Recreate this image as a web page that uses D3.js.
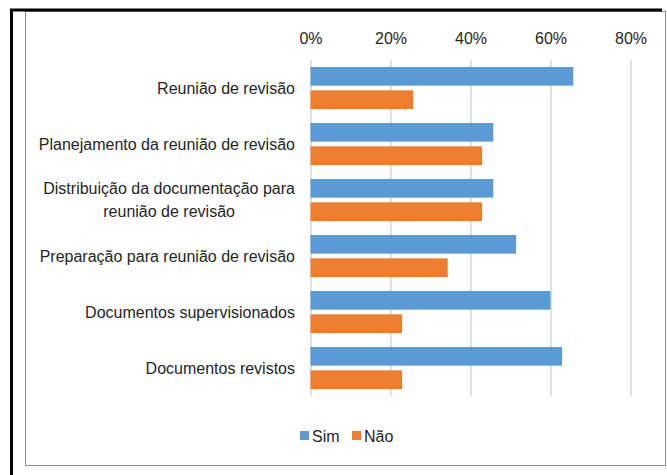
<!DOCTYPE html>
<html>
  <head>
    <meta charset="utf-8">
    <title>Revisão</title>
    <script src="https://d3js.org/d3.v7.min.js"></script>
    <style>
      body { margin: 0; background: #fff; }
      text { font-family: "Liberation Sans Narrow", "Liberation Sans", sans-serif; fill: #262626; }
    </style>
  </head>
  <body>
    <div id="chart"></div>
    <script>
      // data (n = 35 answers)
      var categories = [
        ["Reunião de revisão"],
        ["Planejamento da reunião de revisão"],
        ["Distribuição da documentação para", "reunião de revisão"],
        ["Preparação para reunião de revisão"],
        ["Documentos supervisionados"],
        ["Documentos revistos"]
      ];
      var seriesNames = ["Sim", "Não"];
      var sim = [65.7, 45.7, 45.7, 51.4, 60.0, 62.9];
      var nao = [25.7, 42.9, 42.9, 34.3, 22.9, 22.9];
      var ticks = [0, 20, 40, 60, 80];
      var colors = ["#5B9BD5", "#ED7D31"];

      var W = 667, H = 475;
      var margin = {top: 60, left: 310.5, right: 36.5, bottom: 79};

      var svg = d3.select("#chart").append("svg")
        .attr("width", W).attr("height", H);

      // frames
      svg.append("rect")
        .attr("x", 25.5).attr("y", 11.5).attr("width", 640).attr("height", 454)
        .attr("fill", "none").attr("stroke", "#8c8c8c").attr("stroke-width", 1);
      svg.append("line").attr("x1", 10).attr("x2", 662).attr("y1", 10).attr("y2", 10)
        .attr("stroke", "#000").attr("stroke-width", 3);
      svg.append("line").attr("x1", 11.5).attr("x2", 11.5).attr("y1", 9).attr("y2", H)
        .attr("stroke", "#000").attr("stroke-width", 3);

      var x = d3.scaleLinear().domain([0, 80]).range([margin.left, W - margin.right]);
      var y = d3.scaleBand().domain(d3.range(categories.length))
        .range([margin.top, H - margin.bottom]);
      var inner = d3.scaleBand().domain([0, 1])
        .range([0, y.bandwidth()]).paddingOuter(0.3).paddingInner(0.2);

      // gridlines + top axis
      var axis = svg.append("g")
        .attr("transform", "translate(0," + margin.top + ")")
        .call(d3.axisTop(x).tickValues(ticks)
          .tickFormat(function(d) { return d + "%"; })
          .tickSize(-(H - margin.bottom - margin.top)).tickPadding(16));
      axis.select(".domain").remove();
      axis.selectAll(".tick line").attr("stroke", "#bfbfbf");
      axis.selectAll(".tick text").attr("font-size", 16)
        .style("font-family", '"Liberation Sans Narrow", "Liberation Sans", sans-serif')
        .attr("fill", "#262626");

      // bars
      var series = [sim, nao];
      series.forEach(function(vals, s) {
        svg.append("g").selectAll("rect").data(vals).enter().append("rect")
          .attr("x", x(0))
          .attr("y", function(d, i) { return y(i) + inner(s); })
          .attr("width", function(d) { return x(d) - x(0); })
          .attr("height", inner.bandwidth())
          .attr("fill", colors[s]);
      });

      // category labels
      var lab = svg.append("g").selectAll("text").data(categories).enter().append("text")
        .attr("text-anchor", "middle")
        .attr("font-size", 16)
        .attr("y", function(d, i) { return y(i) + y.bandwidth() / 2; });
      lab.each(function(lines) {
        var t = d3.select(this);
        lines.forEach(function(l, k) {
          t.append("tspan").attr("x", 0)
            .attr("dy", k === 0 ? (0.35 - (lines.length - 1) * 0.7) + "em" : "1.4em")
            .text(l);
        });
      });
      // right align the block, centre multi-line
      lab.each(function(lines) {
        var t = d3.select(this);
        var w = this.getBBox().width;
        t.attr("transform", "translate(" + (295 - w / 2) + ",0)");
      });

      // legend
      var leg = svg.append("g").attr("transform", "translate(300,431)");
      var lx = [0, 52];
      seriesNames.forEach(function(n, s) {
        leg.append("rect").attr("x", lx[s]).attr("y", 0).attr("width", 9).attr("height", 9)
          .attr("fill", colors[s]);
        leg.append("text").attr("x", lx[s] + 12).attr("y", 5).attr("dy", "0.35em")
          .attr("font-size", 16).text(n);
      });
    </script>
  </body>
</html>
